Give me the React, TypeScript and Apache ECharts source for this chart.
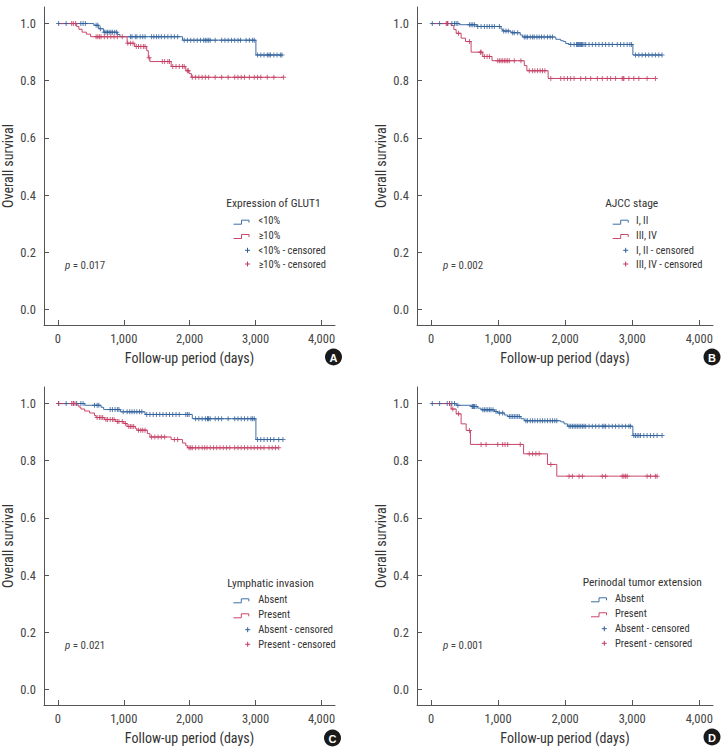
import React, { useEffect, useRef } from "react";
import * as echarts from "echarts";

// ---------- DATA ----------
const xTickValues = [0, 1000, 2000, 3000, 4000];
const yTickValues = [0, 0.2, 0.4, 0.6, 0.8, 1.0];

const panelLetters = ["A", "B", "C", "D"];
const legendTitles = ["Expression of GLUT1", "AJCC stage", "Lymphatic invasion", "Perinodal tumor extension"];
const groupLabels = [
  ["<10%", "≥10%"],
  ["I, II", "III, IV"],
  ["Absent", "Present"],
  ["Absent", "Present"],
];
const pValues = ["0.017", "0.002", "0.021", "0.001"];

// Panel A: GLUT1 expression
const glutLowSteps = [[0, 1], [547, 0.994], [621, 0.982], [695, 0.97], [903, 0.962], [942, 0.954], [1892, 0.942], [3005, 0.89]];
const glutLowCensored = [12, 126, 349, 383, 418, 581, 606, 645, 705, 730, 754, 779, 804, 828, 863, 893, 1101, 1125, 1175, 1199, 1249, 1288, 1323, 1422, 1457, 1496, 1531, 1570, 1620, 1669, 1719, 1768, 1818, 1917, 1966, 2016, 2065, 2115, 2164, 2213, 2238, 2263, 2288, 2312, 2387, 2485, 2535, 2584, 2634, 2683, 2733, 2772, 2856, 2906, 2955, 2980, 3030, 3079, 3128, 3178, 3203, 3227, 3277, 3326, 3376, 3400];
const glutHighSteps = [[0, 1], [285, 0.99], [319, 0.98], [368, 0.97], [433, 0.963], [497, 0.954], [1051, 0.931], [1165, 0.92], [1348, 0.905], [1373, 0.88], [1397, 0.867], [1719, 0.85], [1941, 0.835], [1991, 0.825], [2026, 0.812]];
const glutHighCensored = [210, 235, 270, 581, 606, 631, 655, 705, 754, 804, 853, 903, 977, 1061, 1101, 1140, 1190, 1224, 1259, 1298, 1323, 1385, 1585, 1620, 1669, 1694, 1743, 1793, 1842, 1892, 1917, 1966, 1980, 2040, 2090, 2139, 2189, 2238, 2288, 2387, 2485, 2584, 2683, 2733, 2782, 2832, 2906, 2980, 3030, 3079, 3178, 3277, 3425];

// Panel B: AJCC stage
const stageEarlySteps = [[0, 1], [424, 0.996], [686, 0.99], [1043, 0.981], [1068, 0.974], [1192, 0.968], [1330, 0.96], [1365, 0.953], [1860, 0.945], [1934, 0.94], [1974, 0.937], [2009, 0.93], [2058, 0.927], [3010, 0.89]];
const stageEarlyCensored = [18, 127, 241, 310, 349, 374, 399, 572, 597, 622, 647, 696, 746, 795, 835, 870, 909, 944, 1019, 1083, 1117, 1152, 1217, 1241, 1291, 1390, 1415, 1439, 1479, 1514, 1538, 1578, 1612, 1647, 1687, 1736, 1776, 1811, 2083, 2133, 2170, 2182, 2195, 2207, 2220, 2232, 2245, 2257, 2281, 2306, 2356, 2405, 2455, 2504, 2554, 2603, 2653, 2703, 2777, 2826, 2876, 2925, 2965, 2990, 3049, 3099, 3148, 3198, 3247, 3297, 3346, 3396, 3445];
const stageLateSteps = [[0, 1], [299, 0.993], [340, 0.979], [374, 0.966], [448, 0.949], [513, 0.937], [597, 0.9], [771, 0.885], [909, 0.87], [1390, 0.853], [1429, 0.835], [1746, 0.808]];
const stageLateCensored = [226, 241, 251, 409, 572, 736, 746, 795, 835, 870, 994, 1019, 1043, 1068, 1093, 1117, 1142, 1167, 1241, 1340, 1464, 1514, 1548, 1588, 1627, 1662, 1697, 1786, 1934, 1984, 2034, 2083, 2133, 2232, 2306, 2381, 2480, 2554, 2628, 2678, 2752, 2851, 2865, 2876, 2950, 3024, 3099, 3222, 3346];

// Panel C: Lymphatic invasion
const lymphAbsentSteps = [[0, 1], [408, 0.994], [655, 0.987], [695, 0.979], [952, 0.971], [1323, 0.962], [2040, 0.947], [3005, 0.874]];
const lymphAbsentCensored = [12, 126, 235, 285, 349, 383, 556, 596, 621, 794, 828, 868, 903, 927, 992, 1051, 1091, 1125, 1160, 1199, 1239, 1274, 1348, 1397, 1447, 1496, 1546, 1595, 1645, 1694, 1743, 1793, 1842, 1941, 1966, 1991, 2090, 2139, 2189, 2238, 2270, 2278, 2288, 2312, 2387, 2436, 2485, 2584, 2683, 2733, 2782, 2832, 2881, 2931, 2955, 2980, 3030, 3079, 3128, 3178, 3227, 3277, 3351, 3415];
const lymphPresentSteps = [[0, 1], [285, 0.995], [319, 0.988], [349, 0.981], [408, 0.974], [482, 0.967], [556, 0.958], [581, 0.951], [705, 0.944], [878, 0.937], [1002, 0.93], [1051, 0.92], [1175, 0.913], [1199, 0.907], [1358, 0.895], [1397, 0.883], [1719, 0.874], [1892, 0.862], [1941, 0.853], [1966, 0.845]];
const lymphPresentCensored = [12, 210, 235, 260, 596, 631, 655, 680, 730, 754, 794, 828, 853, 903, 927, 977, 1026, 1076, 1101, 1125, 1150, 1224, 1259, 1288, 1323, 1422, 1471, 1521, 1570, 1620, 1768, 1818, 1991, 2016, 2040, 2090, 2139, 2189, 2228, 2263, 2312, 2362, 2411, 2461, 2510, 2560, 2609, 2683, 2733, 2782, 2832, 2881, 2931, 2980, 3030, 3079, 3128, 3203, 3252, 3302, 3351];

// Panel D: Perinodal tumor extension
const perinodalAbsentSteps = [[0, 1], [374, 0.994], [597, 0.99], [696, 0.984], [746, 0.978], [944, 0.972], [994, 0.967], [1093, 0.96], [1142, 0.955], [1340, 0.947], [1390, 0.94], [1934, 0.936], [1984, 0.929], [2034, 0.921], [3010, 0.888]];
const perinodalAbsentCensored = [18, 127, 241, 276, 310, 349, 399, 612, 622, 632, 647, 671, 771, 795, 820, 845, 870, 894, 924, 969, 1019, 1068, 1167, 1192, 1217, 1241, 1266, 1291, 1316, 1415, 1439, 1479, 1514, 1548, 1588, 1627, 1662, 1697, 1736, 1776, 1811, 1845, 1875, 2058, 2083, 2108, 2133, 2158, 2182, 2207, 2232, 2257, 2281, 2306, 2356, 2405, 2455, 2504, 2554, 2579, 2603, 2653, 2703, 2752, 2802, 2851, 2901, 2950, 2975, 3024, 3049, 3074, 3099, 3123, 3173, 3222, 3272, 3321, 3371, 3445];
const perinodalPresentSteps = [[0, 1], [299, 0.981], [374, 0.964], [448, 0.929], [523, 0.906], [587, 0.857], [1380, 0.824], [1736, 0.787], [1875, 0.746]];
const perinodalPresentCensored = [276, 324, 409, 572, 746, 820, 994, 1068, 1103, 1142, 1330, 1464, 1514, 1563, 1612, 1786, 2058, 2108, 2207, 2257, 2554, 2603, 2851, 2876, 2901, 2925, 3222, 3272, 3346, 3371];

const panelSteps = [
  [glutLowSteps, glutHighSteps],
  [stageEarlySteps, stageLateSteps],
  [lymphAbsentSteps, lymphPresentSteps],
  [perinodalAbsentSteps, perinodalPresentSteps],
];
const panelCensored = [
  [glutLowCensored, glutHighCensored],
  [stageEarlyCensored, stageLateCensored],
  [lymphAbsentCensored, lymphPresentCensored],
  [perinodalAbsentCensored, perinodalPresentCensored],
];

// ---------- STYLE / LAYOUT ----------
const FONT = "'Liberation Sans Narrow', 'Roboto Condensed', 'DejaVu Sans Condensed', 'Liberation Sans', sans-serif";
const LINE_COLORS = ["#3f6fa6", "#c9476a"];
const MARK_COLORS = ["#2f5f9a", "#c23c60"];
const AXIS_COLOR = "#555";
const PLUS = "path://M2,0H3V2H5V3H3V5H2V3H0V2H2Z";

const layout = [
  { gx: 39, gy: 7, titleX: 273.5, titleY: 203, iconX: 233.5, plusX: 247.5, textX: 258.5, rowY: [220.7, 235, 250.3, 264], pX: 65, pY: 265, badgeX: 333.5, badgeY: 357 },
  { gx: 417, gy: 7, titleX: 631.7, titleY: 203, iconX: 612.7, plusX: 625.7, textX: 636, rowY: [220.7, 235, 250.3, 264], pX: 443, pY: 265, badgeX: 712, badgeY: 357 },
  { gx: 39, gy: 387, titleX: 270.5, titleY: 583.3, iconX: 233.3, plusX: 247.7, textX: 258.3, rowY: [599.3, 614.3, 629.7, 644.3], pX: 65, pY: 645, badgeX: 332.5, badgeY: 738 },
  { gx: 417, gy: 387, titleX: 642.3, titleY: 582.3, iconX: 591, plusX: 604.3, textX: 615, rowY: [598.3, 613.3, 628.7, 643.3], pX: 443, pY: 645, badgeX: 712, badgeY: 737 },
];
const GRID_W = 296;
const GRID_H = 318;

function survivalAt(steps: number[][], t: number): number {
  let s = steps[0][1];
  for (const [tt, v] of steps) if (tt <= t) s = v;
  return s;
}

function fmtThousands(v: number): string {
  return String(v).replace(/\B(?=(\d{3})+(?!\d))/g, ",");
}

function buildOption() {
  const grid: any[] = [];
  const xAxis: any[] = [];
  const yAxis: any[] = [];
  const series: any[] = [];
  const graphic: any[] = [];

  layout.forEach((L, i) => {
    grid.push({ left: L.gx, top: L.gy, width: GRID_W, height: GRID_H, containLabel: false });
    xAxis.push({
      gridIndex: i,
      type: "value",
      min: -210,
      max: 4205,
      axisLine: { show: true, onZero: false, lineStyle: { color: AXIS_COLOR, width: 1 } },
      axisTick: { show: true, inside: true, length: 5, customValues: xTickValues, lineStyle: { color: AXIS_COLOR } },
      axisLabel: { customValues: xTickValues, formatter: (v: number) => fmtThousands(v), color: "#444", fontSize: 12.5, margin: 7, fontFamily: FONT },
      splitLine: { show: false },
      name: "Follow-up period (days)",
      nameLocation: "middle",
      nameGap: 26,
      nameTextStyle: { fontSize: 14, color: "#333", fontFamily: FONT },
    });
    yAxis.push({
      gridIndex: i,
      type: "value",
      min: -0.055,
      max: 1.058,
      axisLine: { show: true, onZero: false, lineStyle: { color: AXIS_COLOR, width: 1 } },
      axisTick: { show: true, inside: true, length: 5, customValues: yTickValues, lineStyle: { color: AXIS_COLOR } },
      axisLabel: { customValues: yTickValues, formatter: (v: number) => v.toFixed(1), color: "#444", fontSize: 12.5, margin: 8, fontFamily: FONT },
      splitLine: { show: false },
      name: "Overall survival",
      nameLocation: "middle",
      nameGap: 29,
      nameTextStyle: { fontSize: 14, color: "#333", fontFamily: FONT },
    });

    for (let j = 0; j < 2; j++) {
      const steps = panelSteps[i][j];
      const cens = panelCensored[i][j];
      const lastT = Math.max(...cens, steps[steps.length - 1][0]);
      const lastV = steps[steps.length - 1][1];
      series.push({
        type: "line",
        name: groupLabels[i][j],
        xAxisIndex: i,
        yAxisIndex: i,
        step: "end",
        showSymbol: false,
        symbol: "none",
        silent: true,
        lineStyle: { color: LINE_COLORS[j], width: 1 },
        data: [...steps, [lastT, lastV]],
        z: 2,
      });
      series.push({
        type: "scatter",
        name: groupLabels[i][j] + " - censored",
        xAxisIndex: i,
        yAxisIndex: i,
        symbol: PLUS,
        symbolSize: 5,
        silent: true,
        itemStyle: { color: MARK_COLORS[j] },
        data: cens.map((t) => [t, survivalAt(steps, t)]),
        z: 3,
      });
    }

    // legend (custom drawn to mimic step icons)
    graphic.push({
      type: "text",
      style: { text: legendTitles[i], x: L.titleX, y: L.titleY, align: "center", verticalAlign: "middle", fill: "#333", fontSize: 11.5, fontFamily: FONT },
    });
    for (let j = 0; j < 2; j++) {
      const cy = L.rowY[j];
      graphic.push({
        type: "polyline",
        shape: {
          points: [
            [L.iconX, cy + 3.5],
            [L.iconX + 8, cy + 3.5],
            [L.iconX + 8, cy - 0.5],
            [L.iconX + 15.5, cy - 0.5],
            [L.iconX + 15.5, cy + 2],
          ],
        },
        style: { stroke: LINE_COLORS[j], lineWidth: 1, fill: "none" },
      });
      graphic.push({
        type: "text",
        style: { text: groupLabels[i][j], x: L.textX, y: cy, align: "left", verticalAlign: "middle", fill: "#333", fontSize: 10.5, fontFamily: FONT },
      });
    }
    for (let j = 0; j < 2; j++) {
      const cy = L.rowY[j + 2];
      graphic.push({ type: "line", shape: { x1: L.plusX - 2.5, y1: cy, x2: L.plusX + 2.5, y2: cy }, style: { stroke: MARK_COLORS[j], lineWidth: 1 } });
      graphic.push({ type: "line", shape: { x1: L.plusX, y1: cy - 2.5, x2: L.plusX, y2: cy + 2.5 }, style: { stroke: MARK_COLORS[j], lineWidth: 1 } });
      graphic.push({
        type: "text",
        style: { text: groupLabels[i][j] + " - censored", x: L.textX, y: cy, align: "left", verticalAlign: "middle", fill: "#333", fontSize: 10.5, fontFamily: FONT },
      });
    }
    // p-value
    graphic.push({
      type: "text",
      style: {
        text: "{i|p} = " + pValues[i],
        x: L.pX,
        y: L.pY,
        align: "left",
        verticalAlign: "middle",
        fill: "#444",
        fontSize: 11,
        fontFamily: FONT,
        rich: { i: { fontStyle: "italic", fontSize: 11, fontFamily: FONT, fill: "#444" } },
      },
    });
    // panel badge
    graphic.push({ type: "circle", shape: { cx: L.badgeX, cy: L.badgeY, r: 8.5 }, style: { fill: "#1a1a1a" } });
    graphic.push({
      type: "text",
      style: { text: panelLetters[i], x: L.badgeX, y: L.badgeY + 0.5, align: "center", verticalAlign: "middle", fill: "#fff", fontSize: 11, fontWeight: "bold", fontFamily: "'Liberation Sans', Arial, sans-serif" },
    });
  });

  return {
    animation: false,
    backgroundColor: "#ffffff",
    textStyle: { fontFamily: FONT },
    grid,
    xAxis,
    yAxis,
    series,
    graphic,
  };
}

export default function App() {
  const ref = useRef<HTMLDivElement>(null);
  useEffect(() => {
    if (!ref.current) return;
    const chart = echarts.init(ref.current, undefined, { renderer: "svg" });
    chart.setOption(buildOption() as any);
    return () => chart.dispose();
  }, []);
  return (
    <div
      ref={ref}
      style={{ position: "absolute", left: 0, top: 0, width: 728, height: 755, background: "#fff" }}
    />
  );
}
